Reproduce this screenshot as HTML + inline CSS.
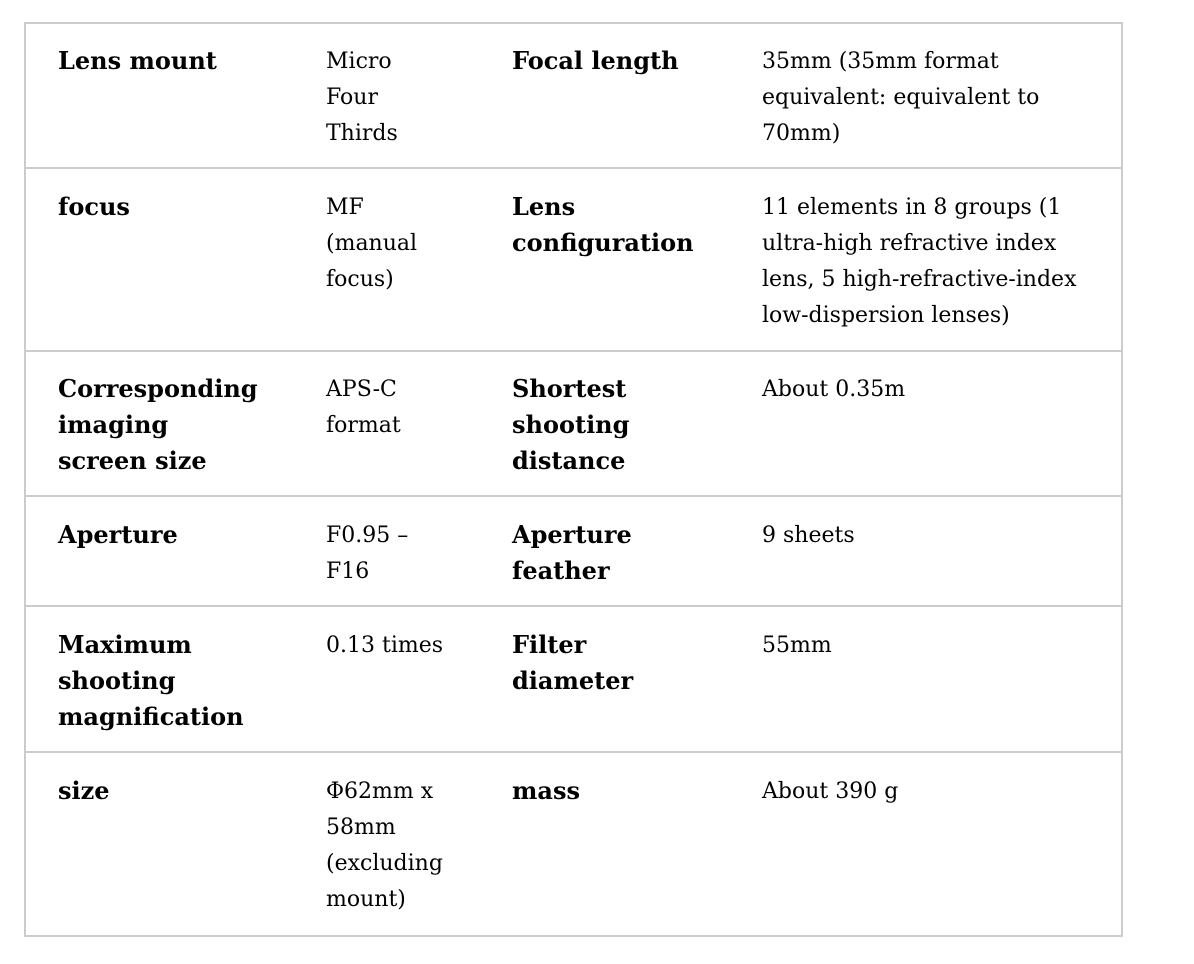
<!DOCTYPE html>
<html><head><style>
body{margin:0;width:1194px;height:964px;background:#fff;position:relative;font-family:"DejaVu Serif","Liberation Serif",serif;color:#000;}
.box{position:absolute;left:24px;top:22px;width:1095px;height:911px;border:2px solid #ccc;}
.hl{position:absolute;left:26px;width:1095px;height:2px;background:#ccc;}
.t{position:absolute;font-size:22px;line-height:36px;white-space:nowrap;}
.b{font-weight:bold;font-size:24px;}
</style></head><body>
<div class="box"></div>
<div class="hl" style="top:167px"></div>
<div class="hl" style="top:350px"></div>
<div class="hl" style="top:495px"></div>
<div class="hl" style="top:605px"></div>
<div class="hl" style="top:751px"></div>

<div class="t b" style="left:58px;top:43px">Lens mount</div>
<div class="t" style="left:326px;top:44px">Micro<br>Four<br>Thirds</div>
<div class="t b" style="left:512px;top:43px">Focal length</div>
<div class="t" style="left:762px;top:44px">35mm (35mm format<br>equivalent: equivalent to<br>70mm)</div>

<div class="t b" style="left:58px;top:189px">focus</div>
<div class="t" style="left:326px;top:190px">MF<br>(manual<br>focus)</div>
<div class="t b" style="left:512px;top:189px">Lens<br>configuration</div>
<div class="t" style="left:762px;top:190px">11 elements in 8 groups (1<br>ultra-high refractive index<br>lens, 5 high-refractive-index<br>low-dispersion lenses)</div>

<div class="t b" style="left:58px;top:371px">Corresponding<br>imaging<br>screen size</div>
<div class="t" style="left:326px;top:372px">APS-C<br>format</div>
<div class="t b" style="left:512px;top:371px">Shortest<br>shooting<br>distance</div>
<div class="t" style="left:762px;top:372px">About 0.35m</div>

<div class="t b" style="left:58px;top:517px">Aperture</div>
<div class="t" style="left:326px;top:518px">F0.95 –<br>F16</div>
<div class="t b" style="left:512px;top:517px">Aperture<br>feather</div>
<div class="t" style="left:762px;top:518px">9 sheets</div>

<div class="t b" style="left:58px;top:627px">Maximum<br>shooting<br>magnification</div>
<div class="t" style="left:326px;top:628px">0.13 times</div>
<div class="t b" style="left:512px;top:627px">Filter<br>diameter</div>
<div class="t" style="left:762px;top:628px">55mm</div>

<div class="t b" style="left:58px;top:773px">size</div>
<div class="t" style="left:326px;top:774px">Φ62mm x<br>58mm<br>(excluding<br>mount)</div>
<div class="t b" style="left:512px;top:773px">mass</div>
<div class="t" style="left:762px;top:774px">About 390 g</div>
</body></html>
